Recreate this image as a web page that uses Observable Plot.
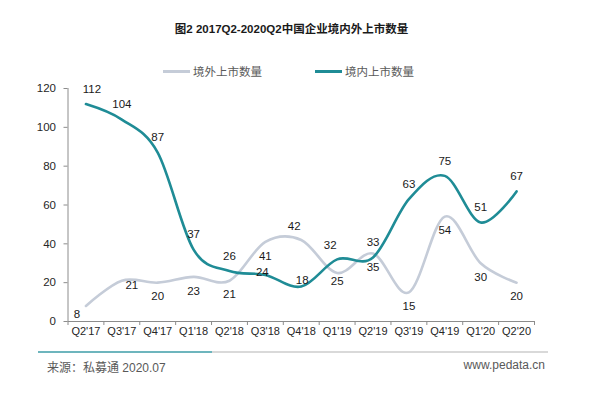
<!DOCTYPE html>
<html><head><meta charset="utf-8">
<script src="https://cdn.jsdelivr.net/npm/d3@7"></script>
<script src="https://cdn.jsdelivr.net/npm/@observablehq/plot@0.6"></script>
<style>
body{margin:0;background:#fff;}
#wrap{position:relative;width:591px;height:397px;overflow:hidden;font-family:"Liberation Sans",Arial,"Noto Sans CJK SC",sans-serif;}
.title{position:absolute;left:0;width:583px;top:20px;text-align:center;font-weight:bold;font-size:11.5px;color:#1a1a1a;font-family:"Liberation Sans",Arial,"Noto Sans CJK SC",sans-serif;}
.legend{position:absolute;top:63px;left:0;width:591px;height:16px;font-size:11.5px;color:#595959;}
.lg{position:absolute;top:0;display:flex;align-items:center;height:16px;}
.lg i{display:inline-block;width:27px;height:3px;margin-right:3px;}
#chart{position:absolute;left:0;top:80px;}
.sep{position:absolute;top:351px;height:2px;}
.foot{position:absolute;top:358px;font-size:12px;color:#595959;}
</style></head>
<body>
<div id="wrap">
  <div class="title">图2 2017Q2-2020Q2中国企业境内外上市数量</div>
  <div class="legend">
    <div class="lg" style="left:163px"><i style="background:#c5ccd8"></i>境外上市数量</div>
    <div class="lg" style="left:315px"><i style="background:#1f8c96"></i>境内上市数量</div>
  </div>
  <div id="chart"></div>
  <div class="sep" style="left:38px;width:174px;background:#6db5bd"></div>
  <div class="sep" style="left:212px;width:336px;background:#d9d9d9"></div>
  <div class="foot" style="left:47px">来源：私募通 2020.07</div>
  <div class="foot" style="right:46px">www.pedata.cn</div>
</div>
<script>
const quarters = ["Q2'17","Q3'17","Q4'17","Q1'18","Q2'18","Q3'18","Q4'18","Q1'19","Q2'19","Q3'19","Q4'19","Q1'20","Q2'20"];
const overseas = [8, 21, 20, 23, 21, 41, 42, 25, 35, 15, 54, 30, 20];   // 境外上市数量
const domestic = [112, 104, 87, 37, 26, 24, 18, 32, 33, 63, 75, 51, 67]; // 境内上市数量
const yTicks = [0, 20, 40, 60, 80, 100, 120];
// label placement (Excel-like data label positions)
const overseasLabelPos = ["below-left","right","below","below","below","below","above-left","near-below","below","below","below","below","below"];
const domesticLabelPos = ["above-right","above","above","above","above","on","near-above","above-left","above","above","above","above","above"];

const offsets = {
  "above":[0,-15], "above-right":[6,-15], "above-left":[-7,-14], "on":[-3,-3], "near-above":[1,-6],
  "below":[0,14], "below-left":[-9,8], "right":[10,5], "near-below":[0,8]
};
const GREY = "#c5ccd8", TEAL = "#1f8c96";

const lineRows = [
  ...overseas.map((v,i)=>({i, v, s:"overseas"})),
  ...domestic.map((v,i)=>({i, v, s:"domestic"}))
];
const labelRows = [
  ...overseas.map((v,i)=>({i, v, dx:offsets[overseasLabelPos[i]][0], dy:offsets[overseasLabelPos[i]][1]})),
  ...domestic.map((v,i)=>({i, v, dx:offsets[domesticLabelPos[i]][0], dy:offsets[domesticLabelPos[i]][1]}))
];
const bounds = d3.range(quarters.length + 1).map(k => k - 0.5);

const labelMarks = labelRows.map(r => Plot.text([r], {x:"i", y:"v", text:d=>String(d.v), dx:r.dx, dy:r.dy, fontSize:11.5, fill:"#1a1a1a"}));

const chart = Plot.plot({
  width: 591, height: 270,
  marginLeft: 67.5, marginRight: 57, marginTop: 8, marginBottom: 29,
  style: {fontFamily: '"Liberation Sans", Arial, sans-serif', background: "transparent"},
  x: {domain: [-0.5, quarters.length - 0.5], axis: null},
  y: {domain: [0, 120], axis: null},
  marks: [
    Plot.axisY({ticks: yTicks, label: null, tickSize: 4, tickPadding: 8, fontSize: 11.5, color: "#262626", stroke: "#8c8c8c"}),
    Plot.ruleX([-0.5], {stroke: "#8c8c8c"}),
    Plot.ruleY([0], {stroke: "#8c8c8c"}),
    Plot.axisX({ticks: bounds, label: null, tickSize: 4, tickFormat: () => "", stroke: "#8c8c8c"}),
    Plot.axisX({ticks: d3.range(quarters.length), label: null, tickSize: 0, tickPadding: 6, tickFormat: i => quarters[i], fontSize: 11, color: "#262626"}),
    Plot.line(lineRows.filter(d=>d.s==="overseas"), {x:"i", y:"v", stroke: GREY, strokeWidth: 2.6, curve: "cardinal"}),
    Plot.line(lineRows.filter(d=>d.s==="domestic"), {x:"i", y:"v", stroke: TEAL, strokeWidth: 2.6, curve: "cardinal"}),
    ...labelMarks
  ]
});
document.getElementById("chart").appendChild(chart);
</script>
</body></html>
